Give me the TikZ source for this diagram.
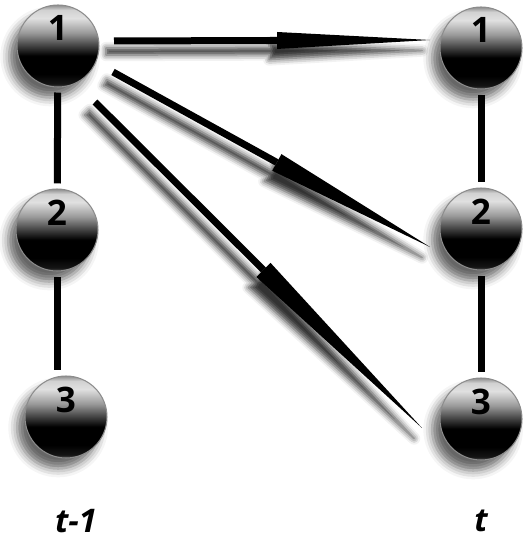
\documentclass[tikz,border=0pt]{standalone}
\usepackage{fontspec}
\setmainfont{Open Sans}
\usetikzlibrary{arrows.meta,calc,shadows.blur}

\pgfdeclareverticalshading{ballshading}{100bp}{color(0bp)=(black!70); color(25bp)=(black!70); color(27bp)=(black!92); color(33bp)=(black); color(44bp)=(black); color(50bp)=(black!75); color(58bp)=(black!40); color(67bp)=(black!12); color(72bp)=(black!18); color(75bp)=(black!45); color(100bp)=(black!45)}

\begin{document}
\begin{tikzpicture}[x=0.02cm,y=-0.02cm,
  ball/.style={circle,minimum size=1.64cm,inner sep=0pt,draw=black!45,line width=0.6pt,
    shading=ballshading,text height=0.52cm,text depth=0.72cm,
    font=\fontsize{20}{24}\selectfont\bfseries,
    blur shadow={shadow xshift=-4.5pt,shadow yshift=-6pt,shadow blur radius=5pt,shadow opacity=60}},
  bar/.style={line width=0.14cm,shorten <=0.1cm,shorten >=0.1cm},
  arr/.style={line width=0.14cm,opacity=1,black},
  arrshadow/.style={blur shadow={shadow xshift=-4.5pt,shadow yshift=-6pt,shadow blur radius=3.5pt,shadow opacity=80}},
  wedgebody/.style n args={4}{insert path={($(#1)!0.07cm!90:(#2)$) -- ($(#3)!0.07cm!-90:(#1)$) -- ($(#3)!#4!-90:(#1)$) -- (#2) -- ($(#3)!#4!90:(#1)$) -- ($(#3)!0.07cm!90:(#1)$) -- ($(#1)!0.07cm!-90:(#2)$) -- cycle}},
  tlbl/.style={font=\fontsize{18.5}{22}\selectfont\bfseries\itshape}]
\useasboundingbox (0,0) rectangle (523,543);

\node[ball] (l1) at (58,46) {1};
\node[ball] (l2) at (57,230) {2};
\node[ball] (l3) at (66,417) {3};
\node[ball] (r1) at (481,48) {1};
\node[ball] (r2) at (481,229) {2};
\node[ball] (r3) at (481,419) {3};

\draw[bar] (l1) -- (l2);
\draw[bar] (l2) -- (l2 |- l3.north);
\draw[bar] (r1) -- (r2);
\draw[bar] (r2) -- (r3);

% arrow ends and head bases
\coordinate (a1s) at ([shift={(56,-5)}]l1.center);
\coordinate (a1e) at ([shift={(-51,-8)}]r1.center);
\coordinate (a2s) at ([shift={(55,26)}]l1.center);
\coordinate (a2e) at ([shift={(-51,18)}]r2.center);
\coordinate (a3s) at ([shift={(37,56)}]l1.center);
\coordinate (a3e) at ([shift={(-59,9)}]r3.center);
\coordinate (a1h) at ($(a1e)!3.06cm!(a1s)$);
\coordinate (a2h) at ($(a2e)!3.5cm!(a2s)$);
\coordinate (a3h) at ($(a3e)!4.48cm!(a3s)$);

\begin{scope}
\path[arrshadow,wedgebody={a1s}{a1e}{a1h}{0.17cm}];
\path[arrshadow,wedgebody={a2s}{a2e}{a2h}{0.19cm}];
\path[arrshadow,wedgebody={a3s}{a3e}{a3h}{0.2cm}];
\end{scope}

\draw[arr,-{Triangle[length=3.06cm,width=0.34cm,line width=0pt]}] (a1s) -- (a1e);
\draw[arr,-{Triangle[length=3.5cm,width=0.38cm,line width=0pt]}] (a2s) -- (a2e);
\draw[arr,-{Triangle[length=4.48cm,width=0.4cm,line width=0pt]}] (a3s) -- (a3e);

\node[tlbl] (tprev) at (76,521) {t-1};
\node[tlbl] (tnow) at (481,521) {t};
\end{tikzpicture}
\end{document}
